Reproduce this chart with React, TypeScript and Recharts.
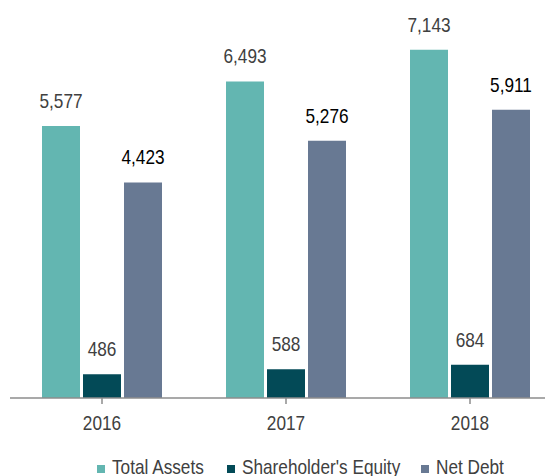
import { BarChart, Bar, XAxis, YAxis, LabelList, Legend } from 'recharts'

const years = ['2016', '2017', '2018']
const totalAssets = [5577, 6493, 7143]
const shareholdersEquity = [486, 588, 684]
const netDebt = [4423, 5276, 5911]

const SERIES = [
  { key: 'totalAssets', name: 'Total Assets', color: '#63B6B1', label: '#404040' },
  { key: 'equity', name: "Shareholder's Equity", color: '#034A57', label: '#404040' },
  { key: 'netDebt', name: 'Net Debt', color: '#687993', label: '#000000' },
]

// no narrow font installed, so squeeze Liberation Sans horizontally
const FONT = "'Liberation Sans', Arial, sans-serif"
const SQUEEZE = 0.82
const LEGEND_X = [0, 130, 324]

const data = years.map((year, i) => ({
  year,
  totalAssets: totalAssets[i],
  equity: shareholdersEquity[i],
  netDebt: netDebt[i],
}))

const fmt = (v: number) => v.toLocaleString('en-US')

function NarrowText({ x, y, fill, anchor = 'middle', children }: any) {
  return (
    <text
      transform={`translate(${x},${y}) scale(${SQUEEZE},1)`}
      textAnchor={anchor}
      fill={fill}
      fontSize={21}
      fontFamily={FONT}
    >
      {children}
    </text>
  )
}

function YearTick({ x, y, payload }: any) {
  return (
    <NarrowText x={x} y={y + 26} fill="#404040">
      {payload.value}
    </NarrowText>
  )
}

function makeLabel(fill: string) {
  return function ValueLabel({ x, y, width, value }: any) {
    return (
      <NarrowText x={x + width / 2} y={y - 18} fill={fill}>
        {fmt(value)}
      </NarrowText>
    )
  }
}

function LegendContent() {
  return (
    <svg width={420} height={24} style={{ display: 'block', overflow: 'visible' }}>
      {SERIES.map((s, i) => (
        <g key={s.key}>
          <rect x={LEGEND_X[i]} y={10} width={8} height={8} fill={s.color} />
          <NarrowText x={LEGEND_X[i] + 15} y={19} fill="#404040" anchor="start">
            {s.name}
          </NarrowText>
        </g>
      ))}
    </svg>
  )
}

export default function App() {
  return (
    <div style={{ width: 545, height: 468, overflow: 'hidden' }}>
      <BarChart
        width={560}
        height={468}
        data={data}
        margin={{ top: 0, right: 6, bottom: 24, left: 2 }}
        barCategoryGap={32}
        barGap={3}
      >
        <XAxis
          dataKey="year"
          axisLine={{ stroke: '#8c8c8c', strokeWidth: 1.5 }}
          tickLine={{ stroke: '#8c8c8c', strokeWidth: 1.5 }}
          tickSize={6}
          tickMargin={0}
          tick={<YearTick />}
          interval={0}
          height={30}
        />
        <YAxis hide domain={[0, 8000]} />
        <Legend
          content={<LegendContent />}
          wrapperStyle={{ left: 89, top: 447, width: 420, height: 24, bottom: 'auto' }}
        />
        {SERIES.map((s) => (
          <Bar key={s.key} dataKey={s.key} name={s.name} fill={s.color} isAnimationActive={false}>
            <LabelList dataKey={s.key} content={makeLabel(s.label)} />
          </Bar>
        ))}
      </BarChart>
    </div>
  )
}
